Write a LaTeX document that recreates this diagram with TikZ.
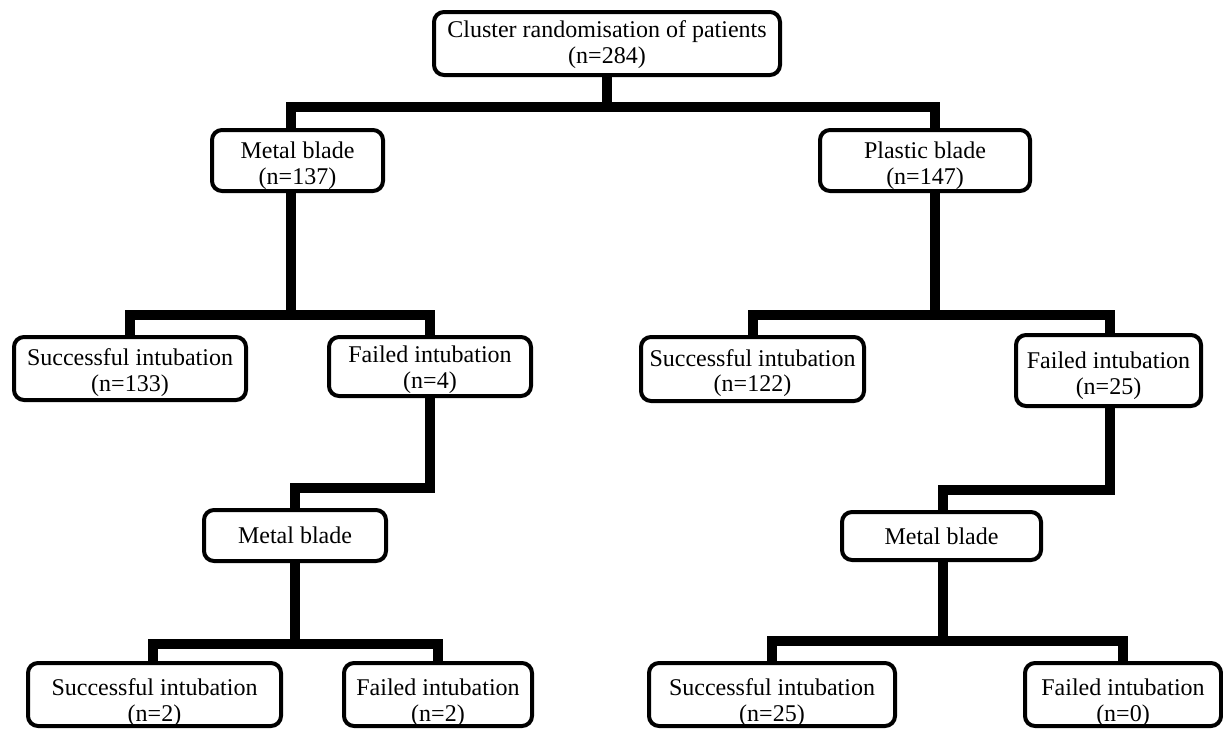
\documentclass[tikz,border=0pt]{standalone}
\usepackage{fontspec}
\setmainfont{Liberation Serif}
\begin{document}
\begin{tikzpicture}[x=1pt,y=-1pt,
  box/.style={draw=black, line width=4pt, rounded corners=10pt, fill=white, inner sep=0pt, outer sep=0pt},
  txt/.style={inner sep=0pt, align=center, font=\fontsize{24}{25.5}\selectfont},
  conn/.style={draw=black, line width=10pt, line join=miter}]
\useasboundingbox (0,0) rectangle (1223,728);
% boxes
\node[box, minimum width=346pt, minimum height=63pt] (top) at (607,43.5) {};
\node[box, minimum width=171pt, minimum height=61pt] (m1) at (297.5,160.5) {};
\node[box, minimum width=210pt, minimum height=61pt] (p1) at (925,160.5) {};
\node[box, minimum width=232pt, minimum height=63pt] (s133) at (130,368.5) {};
\node[box, minimum width=202pt, minimum height=59pt] (f4) at (430,366.5) {};
\node[box, minimum width=223pt, minimum height=64pt] (s122) at (752.5,369) {};
\node[box, minimum width=185pt, minimum height=71pt] (f25) at (1108.5,370.5) {};
\node[box, minimum width=182pt, minimum height=51pt] (m2) at (295,535.5) {};
\node[box, minimum width=199pt, minimum height=48pt] (m2R) at (941.5,536) {};
\node[box, minimum width=253pt, minimum height=63pt] (s2) at (154.5,694.5) {};
\node[box, minimum width=188pt, minimum height=63pt] (f2) at (438,694.5) {};
\node[box, minimum width=246pt, minimum height=63pt] (s25) at (772,694.5) {};
\node[box, minimum width=196pt, minimum height=63pt] (f0) at (1123,694.5) {};
% texts
\node[txt] (top-t) at ([yshift=-1pt]top.center) {Cluster randomisation of patients\\(n=284)};
\node[txt] (m1-t) at ([yshift=-5pt]m1.center) {Metal blade\\(n=137)};
\node[txt] (p1-t) at ([yshift=-5pt]p1.center) {Plastic blade\\(n=147)};
\node[txt] (s133-t) at ([yshift=-4pt]s133.center) {Successful intubation\\(n=133)};
\node[txt] (f4-t) at ([yshift=-3pt]f4.center) {Failed intubation\\(n=4)};
\node[txt] (s122-t) at ([yshift=-4pt]s122.center) {Successful intubation\\(n=122)};
\node[txt] (f25-t) at ([yshift=-5pt]f25.center) {Failed intubation\\(n=25)};
\node[txt] (m2-t) at (m2.center) {Metal blade};
\node[txt] (m2R-t) at (m2R.center) {Metal blade};
\node[txt] (s2-t) at ([yshift=-8pt]s2.center) {Successful intubation\\(n=2)};
\node[txt] (f2-t) at ([yshift=-8pt]f2.center) {Failed intubation\\(n=2)};
\node[txt] (s25-t) at ([yshift=-8pt]s25.center) {Successful intubation\\(n=25)};
\node[txt] (f0-t) at ([yshift=-8pt]f0.center) {Failed intubation\\(n=0)};
% junctions
\coordinate (j1) at (607,107);
\coordinate (j2) at (291,315);
\coordinate (j4) at (295,644);
\coordinate (j5) at (935,315);
\coordinate (j6) at (943,641);
% connectors
\draw[conn] (top.south) -- (j1);
\draw[conn] ([xshift=-6.5pt]m1.north) |- (j1) -| ([xshift=10pt]p1.north);
\draw[conn] ([xshift=-6.5pt]m1.south) -- (j2);
\draw[conn] (s133.north) |- (j2) -| (f4.north);
\draw[conn] (f4.south) -- ++(0,92) -| (m2.north);
\draw[conn] (m2.south) -- (j4);
\draw[conn] ([xshift=-1.5pt]s2.north) |- (j4) -| (f2.north);
\draw[conn] ([xshift=10pt]p1.south) -- (j5);
\draw[conn] (s122.north) |- (j5) -| ([xshift=1.5pt]f25.north);
\draw[conn] ([xshift=1.5pt]f25.south) -- ++(0,84) -| ([xshift=1.5pt]m2R.north);
\draw[conn] ([xshift=1.5pt]m2R.south) -- (j6);
\draw[conn] (s25.north) |- (j6) -| (f0.north);
\end{tikzpicture}
\end{document}
